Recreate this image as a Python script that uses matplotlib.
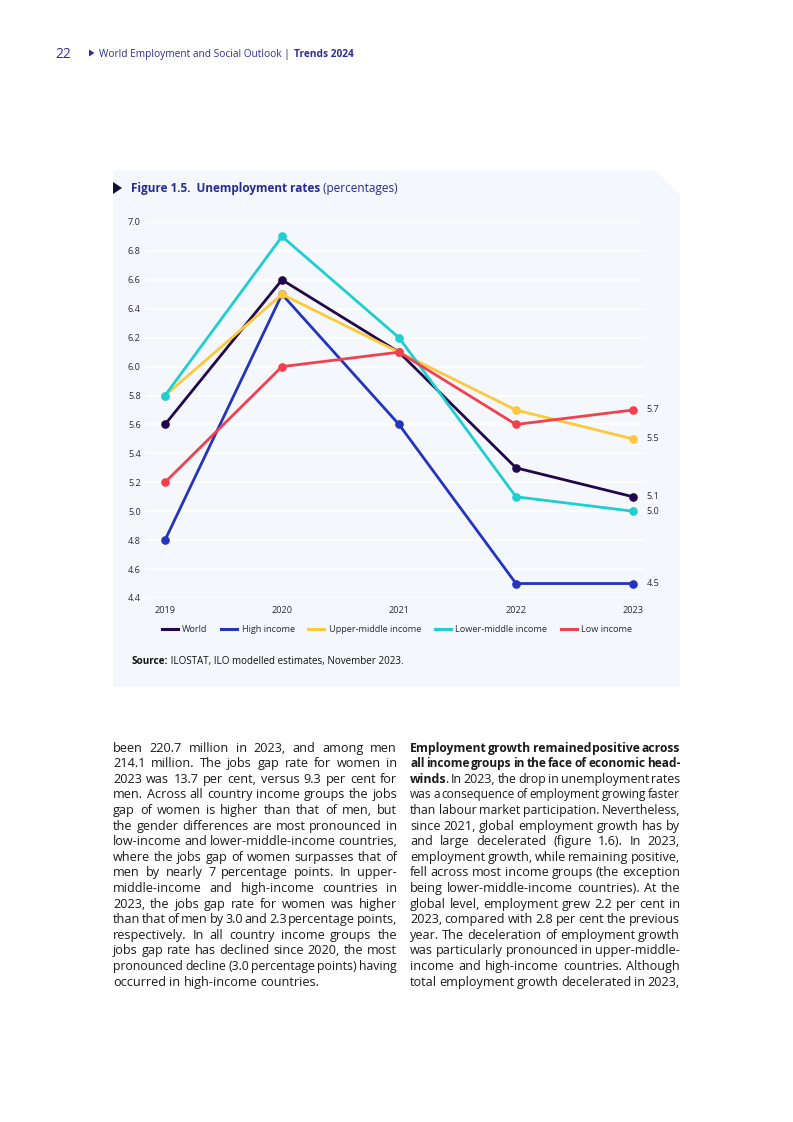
import matplotlib
matplotlib.use('Agg')
import matplotlib.pyplot as plt
from matplotlib.patches import Polygon
from matplotlib.lines import Line2D

W, H = 793, 1122
FONT = ['Open Sans', 'DejaVu Sans']

# ---------------- data ----------------
years = [2019, 2020, 2021, 2022, 2023]
world = [5.6, 6.6, 6.1, 5.3, 5.1]
high_income = [4.8, 6.5, 5.6, 4.5, 4.5]
upper_middle = [5.8, 6.5, 6.1, 5.7, 5.5]
lower_middle = [5.8, 6.9, 6.2, 5.1, 5.0]
low_income = [5.2, 6.0, 6.1, 5.6, 5.7]
series_names = ['World', 'High income', 'Upper-middle income',
                'Lower-middle income', 'Low income']
series_values = [world, high_income, upper_middle, lower_middle, low_income]
colors = ['#22064a', '#2334bd', '#fdc93b', '#1fcfcf', '#f2404f']
yticks = [4.4, 4.6, 4.8, 5.0, 5.2, 5.4, 5.6, 5.8, 6.0, 6.2, 6.4, 6.6, 6.8, 7.0]
ytick_labels = ['4.4', '4.6', '4.8', '5.0', '5.2', '5.4', '5.6', '5.8', '6.0',
                '6.2', '6.4', '6.6', '6.8', '7.0']

left_col = [
    "been 220.7 million in 2023, and among men",
    "214.1 million. The jobs gap rate for women in",
    "2023 was 13.7 per cent, versus 9.3 per cent for",
    "men. Across all country income groups the jobs",
    "gap of women is higher than that of men, but",
    "the gender differences are most pronounced in",
    "low-income and lower-middle-income countries,",
    "where the jobs gap of women surpasses that of",
    "men by nearly 7 percentage points. In upper-",
    "middle-income and high-income countries in",
    "2023, the jobs gap rate for women was higher",
    "than that of men by 3.0 and 2.3 percentage points,",
    "respectively. In all country income groups the",
    "jobs gap rate has declined since 2020, the most",
    "pronounced decline (3.0 percentage points) having",
    "occurred in high-income countries.",
]
right_col = [
    "**Employment growth remained positive across**",
    "**all income groups in the face of economic head-**",
    "**winds**. In 2023, the drop in unemployment rates",
    "was a consequence of employment growing faster",
    "than labour market participation. Nevertheless,",
    "since 2021, global employment growth has by",
    "and large decelerated (figure 1.6). In 2023,",
    "employment growth, while remaining positive,",
    "fell across most income groups (the exception",
    "being lower-middle-income countries). At the",
    "global level, employment grew 2.2 per cent in",
    "2023, compared with 2.8 per cent the previous",
    "year. The deceleration of employment growth",
    "was particularly pronounced in upper-middle-",
    "income and high-income countries. Although",
    "total employment growth decelerated in 2023,",
]

# ---------------- figure ----------------
fig = plt.figure(figsize=(W / 100, H / 100), dpi=100)
fig.patch.set_facecolor('white')
renderer = fig.canvas.get_renderer()


def fx(x):
    return x / W


def fy(y):
    return 1 - y / H


def poly(points, color, z=0):
    p = Polygon([(fx(x), fy(y)) for x, y in points], closed=True,
                transform=fig.transFigure, facecolor=color, edgecolor='none',
                zorder=z)
    fig.patches.append(p)


# panel background with cut corner
poly([(113, 170), (655, 170), (680, 195), (680, 687), (113, 687)], '#f4f7fb', -5)

BLUE = '#2b2f95'

# header
fig.text(fx(55), fy(58), '22', fontsize=10, color=BLUE, family=FONT,
         va='baseline', ha='left')
poly([(89, 49.5), (94.5, 53), (89, 56.5)], BLUE, 2)
t1 = fig.text(fx(99), fy(57), 'World Employment and Social Outlook | ',
              fontsize=7.3, color=BLUE, family=FONT, va='baseline', ha='left')
w1 = t1.get_window_extent(renderer).width
fig.text(fx(99 + w1 + 1), fy(57), 'Trends 2024', fontsize=7.3, color=BLUE,
         family=FONT, weight='bold', va='baseline', ha='left')

# title
poly([(113, 182), (122, 188), (113, 194)], '#111133', 2)
tt = fig.text(fx(131), fy(192), 'Figure 1.5.  Unemployment rates', fontsize=8.5,
              color='#252a97', family=FONT, weight='bold', va='baseline', ha='left')
wt = tt.get_window_extent(renderer).width
fig.text(fx(131 + wt), fy(192), ' (percentages)', fontsize=8.5, color='#252a97',
         family=FONT, va='baseline', ha='left')

# ---------------- chart ----------------
x_left, x_right = 145, 645
y_top, y_bot = 222, 598
ax = fig.add_axes([fx(x_left), fy(y_bot), (x_right - x_left) / W, (y_bot - y_top) / H])
ax.set_zorder(3)
ax.set_facecolor('none')
px_per_year = (633 - 165) / 4
ax.set_xlim(2019 - (165 - x_left) / px_per_year, 2023 + (x_right - 633) / px_per_year)
ax.set_ylim(4.4, 7.0)
for s in ax.spines.values():
    s.set_visible(False)
ax.set_yticks(yticks)
ax.set_yticklabels(ytick_labels)
ax.set_xticks(years)
ax.set_xticklabels([str(y) for y in years])
ax.tick_params(axis='both', length=0, labelsize=6.6, labelcolor='#2a2a3a')
ax.tick_params(axis='y', pad=3)
ax.tick_params(axis='x', pad=6)
for lab in ax.get_xticklabels() + ax.get_yticklabels():
    lab.set_family(FONT)
ax.grid(axis='y', color='#ffffff', linewidth=1.2)
ax.set_axisbelow(True)

for name, vals, c in zip(series_names, series_values, colors):
    ax.plot(years, vals, color=c, linewidth=2.0, marker='o', markersize=5.2,
            label=name, solid_capstyle='round', clip_on=False)
    ax.annotate(f'{vals[-1]:.1f}', xy=(years[-1], vals[-1]), xytext=(10, 0),
                textcoords='offset points', va='center', ha='left',
                fontsize=6.6, color='#2a2a3a', family=FONT)

handles = [Line2D([0], [0], color=c, linewidth=2.2) for c in colors]
leg = fig.legend(handles, series_names, loc='center',
                 bbox_to_anchor=(fx(397), fy(630)), ncol=5, frameon=False,
                 handlelength=1.75, handletextpad=0.45, columnspacing=1.5,
                 prop={'family': FONT, 'size': 6.6})
for t in leg.get_texts():
    t.set_color('#2a2a3a')

# source
ts = fig.text(fx(132), fy(664), 'Source:', fontsize=7.1, weight='bold',
              family=FONT, color='#111111', va='baseline', ha='left')
wsrc = ts.get_window_extent(renderer).width
fig.text(fx(132 + wsrc), fy(664), ' ILOSTAT, ILO modelled estimates, November 2023.',
         fontsize=7.1, family=FONT, color='#111111', va='baseline', ha='left')

# ---------------- body text (justified, word by word) ----------------
BODY_SIZE = 9.1
TXT_COLOR = '#1a1a1a'
_cache = {}


def measure(s, size, weight):
    key = (s, round(size, 4), weight)
    if key not in _cache:
        t = fig.text(0, 0, s, fontsize=size, weight=weight, family=FONT)
        _cache[key] = t.get_window_extent(renderer).width
        t.remove()
    return _cache[key]


def adv(s, size, weight):
    # advance width, measured between two marker glyphs
    return measure('I' + s + 'I', size, weight) - measure('II', size, weight)


def parse(line):
    parts = line.split('**')
    words = [[]]
    for i, p in enumerate(parts):
        wt_ = 'bold' if i % 2 else 'normal'
        pieces = p.split(' ')
        for j, piece in enumerate(pieces):
            if j > 0:
                words.append([])
            if piece:
                words[-1].append((piece, wt_))
    return [w for w in words if w]


def draw_line(line, x0, x1, ybase, size, justify):
    words = parse(line)
    target = x1 - x0
    ngaps = len(words) - 1

    def layout(sz):
        ws = [[adv(t, sz, w) - (1.0 if k < len(word) - 1 else 0.0)
               for k, (t, w) in enumerate(word)] for word in words]
        return ws, sum(sum(a) for a in ws)

    space = adv(' ', size, 'normal')
    widths, total = layout(size)
    if justify and ngaps > 0:
        gap = (target - total) / ngaps
        if gap < 0.5 * space:
            scale = (target - 0.5 * space * ngaps) / total
            size *= scale
            widths, total = layout(size)
            gap = (target - total) / ngaps
    else:
        gap = space
    x = x0
    for word, ws in zip(words, widths):
        for (t, w), wd in zip(word, ws):
            fig.text(fx(x), fy(ybase), t, fontsize=size, weight=w, family=FONT,
                     color=TXT_COLOR, va='baseline', ha='left')
            x += wd
        x += gap


y0 = 751.5
lh = 15.6
for i, line in enumerate(left_col):
    draw_line(line, 113, 397, round(y0 + i * lh), BODY_SIZE,
              justify=(i < len(left_col) - 1))
for i, line in enumerate(right_col):
    draw_line(line, 410, 680, round(y0 + i * lh), BODY_SIZE, justify=True)

fig.savefig('out.png', dpi=100)
